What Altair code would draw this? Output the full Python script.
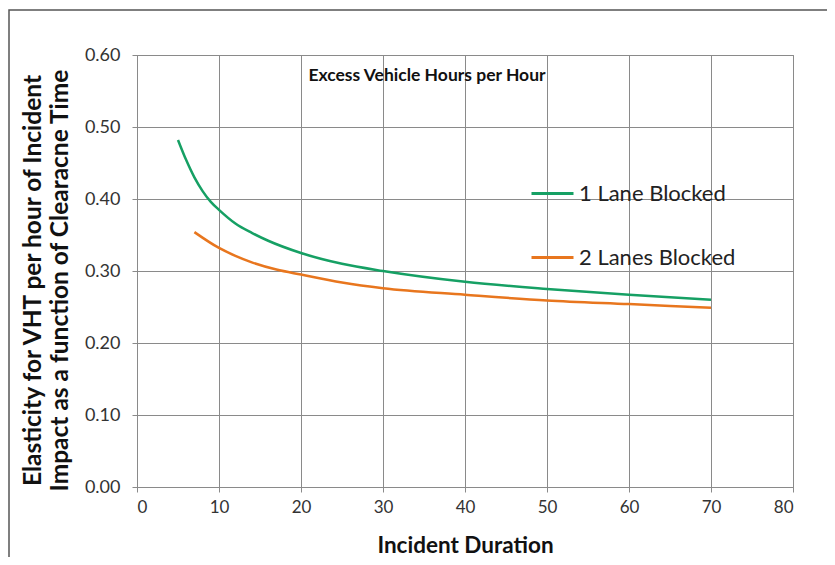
import altair as alt
import pandas as pd

# Data
x_one_lane = [5, 6, 7, 8, 9, 10, 12, 14, 16, 20, 25, 30, 40, 50, 60, 70]
y_one_lane = [0.482, 0.454, 0.430, 0.411, 0.396, 0.385, 0.366, 0.353, 0.342, 0.325, 0.310, 0.300, 0.285, 0.275, 0.267, 0.260]
x_two_lanes = [7, 10, 12, 14, 17, 20, 25, 30, 40, 50, 60, 70]
y_two_lanes = [0.354, 0.332, 0.321, 0.312, 0.302, 0.295, 0.284, 0.276, 0.267, 0.259, 0.254, 0.249]

series_names = ["1 Lane Blocked", "2 Lanes Blocked"]
series_colors = ["#16a064", "#e8761e"]
x_ticks = [0, 10, 20, 30, 40, 50, 60, 70, 80]
y_ticks = [0.0, 0.1, 0.2, 0.3, 0.4, 0.5, 0.6]
chart_title = "Excess Vehicle Hours per Hour"
x_title = "Incident Duration"
y_title = ["Elasticity for VHT per hour of Incident", "Impact as a function of Clearacne Time"]

df = pd.concat([
    pd.DataFrame({"duration": x_one_lane, "elasticity": y_one_lane, "series": series_names[0]}),
    pd.DataFrame({"duration": x_two_lanes, "elasticity": y_two_lanes, "series": series_names[1]}),
])

FONT = "Lato"

lines = alt.Chart(df).mark_line(strokeWidth=2.5, interpolate="monotone").encode(
    x=alt.X("duration:Q", scale=alt.Scale(domain=[0, 80], nice=False),
            axis=alt.Axis(values=x_ticks, title=x_title, format="d", labelPadding=7,
                          titlePadding=19, labelFontSize=17, titleFontSize=22.5)),
    y=alt.Y("elasticity:Q", scale=alt.Scale(domain=[0, 0.6], nice=False),
            axis=alt.Axis(values=y_ticks, title=y_title, format=".2f", labelPadding=12,
                          titlePadding=12, titleLineHeight=27, labelFontSize=18,
                          titleFontSize=24.5, titleY=225)),
    color=alt.Color("series:N", scale=alt.Scale(domain=series_names, range=series_colors),
                    legend=alt.Legend(orient="none", legendX=393, legendY=116, title=None,
                                      symbolType="stroke", symbolSize=1764,
                                      symbolStrokeWidth=3, labelFontSize=22, labelFont=FONT,
                                      labelColor="#222", rowPadding=30, labelOffset=4,
                                      labelLimit=400)),
)

title_text = alt.Chart(pd.DataFrame({"t": [chart_title]})).mark_text(
    font=FONT, fontSize=17.5, fontWeight="bold", color="#111", align="center", baseline="middle"
).encode(x=alt.value(290), y=alt.value(21), text="t:N")

frame = alt.Chart(pd.DataFrame({"a": [0]})).mark_rect(
    fill=None, stroke="#555", strokeWidth=1.5
).encode(x=alt.value(-128), x2=alt.value(720), y=alt.value(-45), y2=alt.value(600))

chart = alt.layer(frame, lines, title_text).properties(
    width=656, height=432,
    background="white",
    padding={"left": 129, "top": 47, "right": 34, "bottom": 70},
    autosize=alt.AutoSizeParams(type="none"),
).configure_view(stroke="#888", strokeWidth=1).configure_axis(
    gridColor="#8a8a8a", gridWidth=1, domainColor="#8a8a8a", tickColor="#8a8a8a",
    tickSize=5, labelFont=FONT, labelColor="#333",
    titleFont=FONT, titleFontWeight="bold", titleColor="#111",
    titleLimit=600,
)

chart.save("out.html", embed_options={"renderer": "svg", "actions": False})
